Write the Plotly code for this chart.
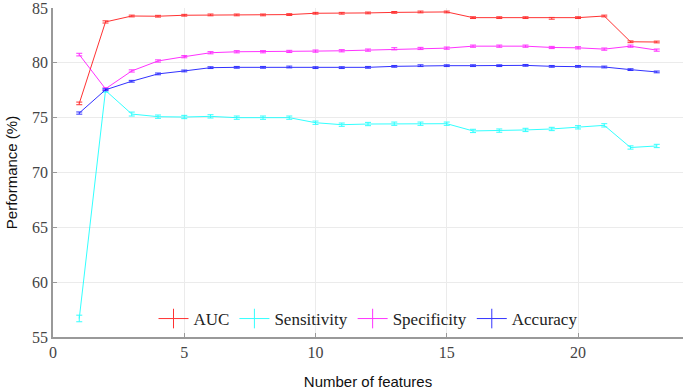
import plotly.graph_objects as go

n_features = list(range(1, 24))

auc = [76.3, 83.73, 84.27, 84.25, 84.34, 84.37, 84.37, 84.37, 84.4, 84.52, 84.52, 84.55,
       84.6, 84.64, 84.64, 84.12, 84.12, 84.12, 84.06, 84.12, 84.27, 81.92, 81.9]
auc_err = [0.12, 0.1, 0.08, 0.08, 0.08, 0.08, 0.08, 0.08, 0.08, 0.08, 0.08, 0.08,
           0.08, 0.08, 0.08, 0.08, 0.08, 0.08, 0.08, 0.08, 0.08, 0.08, 0.08]

sensitivity = [56.69, 77.48, 75.33, 75.09, 75.06, 75.12, 75.0, 75.0, 75.0, 74.54, 74.36, 74.42,
               74.45, 74.45, 74.45, 73.79, 73.82, 73.88, 73.97, 74.12, 74.3, 72.28, 72.42]
sensitivity_err = [0.3, 0.15, 0.18, 0.15, 0.15, 0.15, 0.15, 0.15, 0.15, 0.15, 0.15, 0.15,
                   0.15, 0.15, 0.15, 0.15, 0.15, 0.15, 0.15, 0.15, 0.15, 0.15, 0.15]

specificity = [80.75, 77.63, 79.26, 80.17, 80.56, 80.92, 81.01, 81.01, 81.04, 81.07, 81.1, 81.16,
               81.28, 81.31, 81.34, 81.52, 81.52, 81.52, 81.4, 81.37, 81.25, 81.52, 81.16]
specificity_err = [0.12, 0.1, 0.1, 0.1, 0.1, 0.1, 0.1, 0.1, 0.1, 0.1, 0.1, 0.1,
                   0.1, 0.1, 0.1, 0.1, 0.1, 0.1, 0.1, 0.1, 0.1, 0.1, 0.1]

accuracy = [75.42, 77.54, 78.32, 78.99, 79.26, 79.56, 79.59, 79.59, 79.62, 79.56, 79.56, 79.59,
            79.68, 79.74, 79.74, 79.74, 79.74, 79.77, 79.68, 79.68, 79.62, 79.38, 79.17]
accuracy_err = [0.1, 0.08, 0.08, 0.08, 0.08, 0.08, 0.08, 0.08, 0.08, 0.08, 0.08, 0.08,
                0.08, 0.08, 0.08, 0.08, 0.08, 0.08, 0.08, 0.08, 0.08, 0.08, 0.08]

series = [
    ("AUC", auc, auc_err, "#ff0000"),
    ("Sensitivity", sensitivity, sensitivity_err, "#00ffff"),
    ("Specificity", specificity, specificity_err, "#ff00ff"),
    ("Accuracy", accuracy, accuracy_err, "#0000ff"),
]

x_ticks = [0, 5, 10, 15, 20]
y_ticks = [55, 60, 65, 70, 75, 80, 85]

fig = go.Figure()
for name, vals, errs, color in series:
    fig.add_trace(go.Scatter(
        x=n_features, y=vals, name=name, mode="lines", showlegend=False,
        line=dict(color=color, width=1),
        opacity=0.8,
        error_y=dict(type="data", array=errs, visible=True, color=color,
                     thickness=1, width=3),
    ))
# legend entries (line with a vertical error-bar glyph)
for name, vals, errs, color in series:
    fig.add_trace(go.Scatter(
        x=[None], y=[None], name=name, mode="lines+markers",
        line=dict(color=color, width=1), opacity=0.8,
        marker=dict(symbol="line-ns-open", size=14, color=color,
                    line=dict(color=color, width=1)),
    ))

fig.update_layout(
    width=685, height=390,
    margin=dict(l=53, r=2, t=8, b=53),
    plot_bgcolor="white", paper_bgcolor="white",
    showlegend=True,
    legend=dict(orientation="h", x=0.5, xanchor="center", y=0.0, yanchor="bottom",
                font=dict(family="Liberation Serif", size=17, color="#222"),
                bgcolor="rgba(255,255,255,0)", itemwidth=30,
                tracegroupgap=0),
    xaxis=dict(range=[0, 24], tickvals=x_ticks, showgrid=True, gridcolor="#ebebeb",
               showline=True, linecolor="#999", linewidth=1.5, zeroline=False,
               ticks="inside", ticklen=4, tickcolor="#999", automargin=False,
               ticklabeloverflow="allow",
               tickfont=dict(family="Liberation Serif", size=16, color="#444"),
               title=dict(text="Number of features",
                          font=dict(family="Liberation Sans", size=15, color="#111"),
                          standoff=17)),
    yaxis=dict(range=[55, 85], tickvals=y_ticks, showgrid=True, gridcolor="#ebebeb",
               showline=True, linecolor="#999", linewidth=1.5, zeroline=False,
               ticks="inside", ticklen=4, tickcolor="#999", automargin=False,
               ticklabeloverflow="allow",
               tickfont=dict(family="Liberation Serif", size=16, color="#444"),
               title=dict(text="Performance (%)",
                          font=dict(family="Liberation Sans", size=15, color="#111"),
                          standoff=11)),
)

fig.write_html("out.html", config={"displayModeBar": False},
               post_script="document.body.style.margin='0';document.body.style.padding='0';")
